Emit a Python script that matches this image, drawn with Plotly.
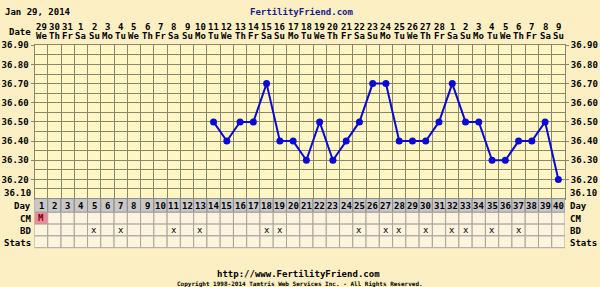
import plotly.graph_objects as go

W, H = 600, 287

# ---------------- data ----------------
dates = ["29", "30", "31", "1", "2", "3", "4", "5", "6", "7", "8", "9", "10", "11",
         "12", "13", "14", "15", "16", "17", "18", "19", "20", "21", "22", "23", "24",
         "25", "26", "27", "28", "1", "2", "3", "4", "5", "6", "7", "8", "9"]
weekdays = ["We", "Th", "Fr", "Sa", "Su", "Mo", "Tu", "We", "Th", "Fr", "Sa", "Su", "Mo", "Tu",
            "We", "Th", "Fr", "Sa", "Su", "Mo", "Tu", "We", "Th", "Fr", "Sa", "Su", "Mo", "Tu",
            "We", "Th", "Fr", "Sa", "Su", "Mo", "Tu", "We", "Th", "Fr", "Sa", "Su"]
days = list(range(1, 41))
temp_days = [14, 15, 16, 17, 18, 19, 20, 21, 22, 23, 24, 25, 26, 27, 28, 29, 30,
             31, 32, 33, 34, 35, 36, 37, 38, 39, 40]
temps = [36.50, 36.40, 36.50, 36.50, 36.70, 36.40, 36.40, 36.30, 36.50, 36.30, 36.40,
         36.50, 36.70, 36.70, 36.40, 36.40, 36.40, 36.50, 36.70, 36.50, 36.50, 36.30,
         36.30, 36.40, 36.40, 36.50, 36.20]
cm_days = [1]
cm_vals = ["M"]
bd_days = [5, 7, 11, 13, 18, 19, 25, 27, 28, 30, 32, 33, 35, 37]
temp_ticks = [36.10, 36.20, 36.30, 36.40, 36.50, 36.60, 36.70, 36.80, 36.90]
row_labels = ["Day", "CM", "BD", "Stats"]

# ---------------- layout helpers ----------------
def py(y):
    return 1 - y / H

X0, X1 = 34.5, 565.0
T_TOP, T_BOT = 41.0, 197.0
row_edges = [197.0, 211.0, 223.0, 235.0, 247.0]

FONT = "DejaVu Sans Mono"
PAPER = "#fcefc3"
PLOT = "#fff6c6"
GRID = "#8a866a"
BLUE = "#0a0ad2"

fig = go.Figure()
fig.add_trace(go.Scatter(
    x=temp_days, y=temps, mode="lines+markers",
    line=dict(color=BLUE, width=2),
    marker=dict(color=BLUE, size=7),
    hoverinfo="skip", showlegend=False))
fig.add_trace(go.Scatter(
    x=temp_days, y=temps, mode="lines", yaxis="y2", opacity=0,
    hoverinfo="skip", showlegend=False))

shapes = []
annotations = []

def ann(x, y, text, xref="x", xanchor="center", size=9, color="black", bold=True,
        yref="paper"):
    annotations.append(dict(
        x=x, y=y, xref=xref, yref=yref, text=text, showarrow=False,
        xanchor=xanchor, yanchor="middle",
        font=dict(family=FONT, size=size, color=color, weight="bold" if bold else "normal")))

# table rows
for r in range(4):
    y0, y1 = py(row_edges[r + 1]), py(row_edges[r])
    for d in days:
        fill = "#c8c8c8" if r == 0 else "#fcf4de"
        lc = "#8a8a8a" if r == 0 else "#a9a49a"
        if r == 1 and d in cm_days:
            fill = "#f08a98"
        shapes.append(dict(type="rect", xref="x", yref="paper",
                           x0=d - 0.5, x1=d + 0.5, y0=y0, y1=y1,
                           fillcolor=fill, line=dict(color=lc, width=1), layer="above"))
    yc = py((row_edges[r] + row_edges[r + 1]) / 2 + 1)
    ann(33 / W, yc, row_labels[r], xref="paper", xanchor="right")
    ann(568 / W, yc, row_labels[r], xref="paper", xanchor="left")

# bottom temperature label sits just above the Day row
ann(33 / W, py(191.5), f"{temp_ticks[0]:.2f}", xref="paper", xanchor="right")
ann(568 / W, py(191.5), f"{temp_ticks[0]:.2f}", xref="paper", xanchor="left")

# day numbers
ycd = py((row_edges[0] + row_edges[1]) / 2 + 1)
for d in days:
    ann(d, ycd, str(d))
# CM
ycm = py((row_edges[1] + row_edges[2]) / 2)
for d, v in zip(cm_days, cm_vals):
    ann(d, ycm, v, color="#7a0010")
# BD
ybd = py((row_edges[2] + row_edges[3]) / 2)
for d in bd_days:
    ann(d, ybd, "x", bold=False)

# date header
for d, dt, wd in zip(days, dates, weekdays):
    ann(d, py(22.5), dt)
    ann(d, py(32), wd)
ann(33 / W, py(27.5), "Date", xref="paper", xanchor="right")

# titles / footer
ann(3 / W, py(7), "Jan 29, 2014", xref="paper", xanchor="left")
ann(302 / W, py(7), "FertilityFriend.com", xref="paper", color="#1a1a8c")
ann(298 / W, py(274), "http://www.FertilityFriend.com", xref="paper")
ann(300 / W, py(284), "Copyright 1998-2014 Tamtris Web Services Inc. - All Rights Reserved.",
    xref="paper", size=6)

yaxis_common = dict(
    range=[temp_ticks[0], temp_ticks[-1]],
    domain=[py(T_BOT), py(T_TOP)],
    tickvals=temp_ticks[1:], tickformat=".2f",
    tickfont=dict(family=FONT, size=9, color="black", weight="bold"),
    ticks="outside", ticklen=3, tickcolor=GRID,
    showgrid=True, gridcolor=GRID, gridwidth=1,
    minor=dict(dtick=0.05, tick0=36.05, showgrid=True, gridcolor=GRID, gridwidth=1),
    showline=True, linecolor=GRID, linewidth=1, zeroline=False, fixedrange=True,
)

fig.update_layout(
    width=W, height=H,
    margin=dict(l=0, r=0, t=0, b=0),
    paper_bgcolor=PAPER, plot_bgcolor=PLOT,
    showlegend=False,
    xaxis=dict(range=[0.5, 40.5], domain=[X0 / W, X1 / W],
               tick0=0.5, dtick=1, showticklabels=False, ticks="",
               showgrid=True, gridcolor=GRID, gridwidth=1,
               showline=True, linecolor=GRID, linewidth=1, mirror=True,
               zeroline=False, fixedrange=True),
    yaxis=dict(side="left", **yaxis_common),
    yaxis2=dict(side="right", overlaying="y", **yaxis_common),
    shapes=shapes,
    annotations=annotations,
)

fig.write_html("out.html")
